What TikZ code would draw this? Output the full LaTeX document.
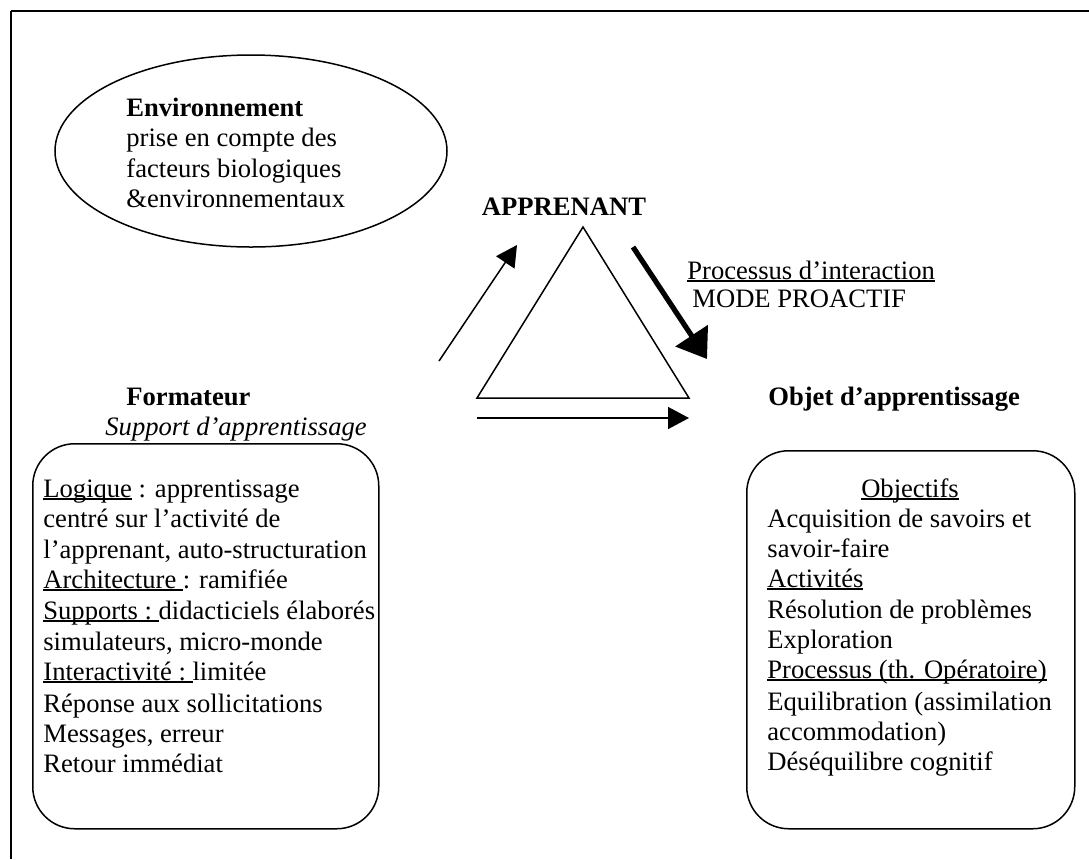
\documentclass[tikz,border=0pt]{standalone}
\usepackage{fontspec}
\setmainfont{Liberation Serif}
\usetikzlibrary{arrows.meta,shapes.geometric}

% word underline drawn just under the baseline
\newsavebox\ulbox
\newcommand\ulw[1]{\sbox\ulbox{#1}\rlap{\rule[-1.4pt]{\wd\ulbox}{0.75pt}}\usebox\ulbox}

\begin{document}
\begin{tikzpicture}[x=0.5pt,y=-0.5pt,
  txt/.style={inner sep=0pt, anchor=base west, font=\fontsize{13.3}{14}\selectfont},
  ctxt/.style={txt, anchor=base},
  outline/.style={line width=0.75pt},
  panel/.style={draw, outline, rounded corners=21pt, inner sep=0pt, anchor=north west},
  thinarrow/.style={line width=0.75pt, -{Triangle[length=10.5pt,width=11pt]}},
  thickarrow/.style={line width=2.6pt, -{Triangle[length=14pt,width=19pt]}}]
\useasboundingbox (0,0) rectangle (1089,859);

% frame
\draw[line width=1.1pt] (1089,11) -- (11,11);
\draw[line width=0.75pt] (11,11) -- (11,859);

% environment bubble
\node[draw, outline, ellipse, inner sep=0pt, minimum width=196pt, minimum height=96pt] (env) at (251,151) {};
\node[txt, font=\fontsize{13.3}{14}\selectfont\bfseries] (envT) at (126,116) {Environnement};
\node[txt] (env1) at (126,146) {prise en compte des};
\node[txt] (env2) at (126,177) {facteurs biologiques};
\node[txt] (env3) at (126,207) {\&environnementaux};

% learner triangle
\node[ctxt, font=\fontsize{13.3}{14}\selectfont\bfseries] (appr) at (564,215) {APPRENANT};
\coordinate (apex) at (583,227);
\coordinate (bl) at (477,398);
\coordinate (br) at (689,398);
\draw[outline, line join=miter] (apex) -- (bl) -- (br) -- cycle;

% arrows around the triangle
\coordinate (upS) at (439,361);
\coordinate (upE) at (517,245);
\draw[thinarrow] (upS) -- (upE);
\coordinate (dnS) at (633,247);
\coordinate (dnE) at (707,359);
\draw[thickarrow] (dnS) -- (dnE);
\coordinate (baS) at (477,418);
\coordinate (baE) at (689,418);
\draw[thinarrow] (baS) -- (baE);

\node[txt] (proc) at (687,279) {\ulw{Processus d’interaction}};
\node[txt] (mode) at (692,307) {MODE PROACTIF};

% trainer side
\node[txt, font=\fontsize{13.3}{14}\selectfont\bfseries] (form) at (126,405) {Formateur};
\node[txt, font=\fontsize{13.3}{14}\selectfont\itshape] (supp) at (105,435) {Support d’apprentissage};
\node[panel, minimum width=173pt, minimum height=192.5pt] (fbox) at (32,443) {};
\node[txt] (f1) at (43,497) {\ulw{Logique} : apprentissage};
\node[txt] (f2) at (43,527) {centré sur l’activité de};
\node[txt] (f3) at (43,558) {l’apprenant, auto-structuration};
\node[txt] (f4) at (43,588) {\ulw{Architecture~}: ramifiée};
\node[txt] (f5) at (43,619) {\ulw{Supports :~}didacticiels élaborés};
\node[txt] (f6) at (43,650) {simulateurs, micro-monde};
\node[txt] (f7) at (43,680) {\ulw{Interactivité :~}limitée};
\node[txt] (f8) at (43,712) {Réponse aux sollicitations};
\node[txt] (f9) at (43,742) {Messages, erreur};
\node[txt] (f10) at (43,772) {Retour immédiat};

% learning object side
\node[txt, font=\fontsize{13.3}{14}\selectfont\bfseries] (obj) at (768,405) {Objet d’apprentissage};
\node[panel, minimum width=164pt, minimum height=189pt] (obox) at (746,450) {};
\node[ctxt] (o1) at (910,497) {\ulw{Objectifs}};
\node[txt] (o2) at (767,527) {Acquisition de savoirs et};
\node[txt] (o3) at (767,557) {savoir-faire};
\node[txt] (o4) at (767,587) {\ulw{Activités}};
\node[txt] (o5) at (767,618) {Résolution de problèmes};
\node[txt] (o6) at (767,648) {Exploration};
\node[txt] (o7) at (767,678) {\ulw{Processus (th. Opératoire)}};
\node[txt] (o8) at (767,710) {Equilibration (assimilation};
\node[txt] (o9) at (767,740) {accommodation)};
\node[txt] (o10) at (767,770) {Déséquilibre cognitif};
\end{tikzpicture}
\end{document}
